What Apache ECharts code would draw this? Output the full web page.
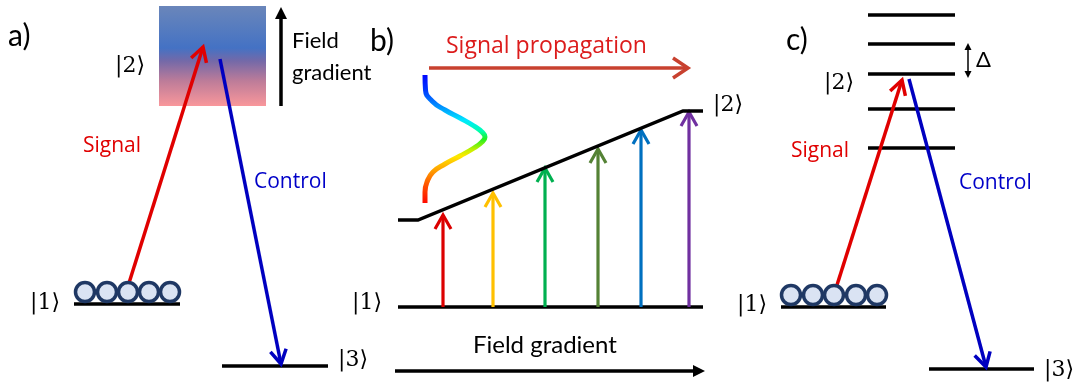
<!DOCTYPE html>
<html>
<head>
<meta charset="utf-8">
<script src="https://cdn.jsdelivr.net/npm/echarts@6/dist/echarts.min.js"></script>
<style>
  html, body { margin: 0; padding: 0; background: #fff; }
  #c { width: 1081px; height: 387px; }
</style>
</head>
<body>
<div id="c"></div>
<script>
// Drawing space: x runs 0..1081 to the right, y runs 0..387 downward.
const SPAN_X = 1081;
const SPAN_Y = 387;

// Energy-level bars: [x start, y, x end]
const levelBars = [
  [74, 304, 180],    // a) |1>
  [222, 366, 328],   // a) |3>
  [398, 307, 703],   // b) |1>
  [781, 307, 886],   // c) |1>
  [929, 369, 1034],  // c) |3>
  [868, 15, 955],    // c) shifted |2> ladder
  [868, 44, 955],
  [868, 74, 955],
  [868, 109, 955],
  [868, 148, 955]
];

// b) upper level tilted by the field gradient
const rampLevel = [[398, 220], [418, 220], [683, 111], [703, 111]];

// Broadened |2> band in a): [x1, y1, x2, y2]
const band = [[159, 6, 266, 106]];

// Atoms resting on |1>
const atomsA = [[85, 292], [107, 292], [128, 292], [149, 292], [170, 292]];
const atomsC = [[791, 295], [813, 295], [834, 295], [856, 295], [877, 295]];

// Optical transitions: [x1, y1, x2, y2]
const signalArrows = [[129, 283, 203, 47], [837, 285, 902, 80]];
const controlArrows = [[220, 59, 281, 364], [909, 79, 986, 367]];

// b) spectral components climbing from |1> to the tilted level
const rampX = [443, 493, 545, 598, 641, 689];
const rampTop = [215, 193, 168, 149, 130, 112];
const rampBase = 307;

// Direction arrows: [x1, y1, x2, y2]
const gradientArrows = [[281, 106, 281, 7], [395, 371, 705, 371]];
const propagationArrow = [[429, 68, 688, 68]];
const detuningArrow = [[968, 43, 968, 78]];

// Signal pulse envelope
const pulse = [
  [425, 75], [425.5, 90], [432, 101], [445, 110], [460, 118], [474, 126], [482, 132],
  [485, 137], [482, 142], [474, 148], [460, 156], [445, 164], [433, 172],
  [427, 182], [425, 192], [425, 203]
];

// Text: [x, y, text]
const panelLabels = [[8, 36, 'a)'], [370, 41, 'b)'], [786, 40, 'c)']];
const ketLabels = [
  [115, 66, '|2⟩'], [30, 303, '|1⟩'], [338, 360, '|3⟩'],
  [713, 105, '|2⟩'], [352, 303, '|1⟩'],
  [824, 83, '|2⟩'], [737, 305, '|1⟩'], [1044, 370, '|3⟩']
];
const signalLabels = [[83, 146, 'Signal'], [791, 151, 'Signal']];
const controlLabels = [[254, 182, 'Control'], [959, 183, 'Control']];
const propagationLabel = [[446, 46, 'Signal propagation']];
const gradientLabels = [[292, 41, 'Field'], [292, 73, 'gradient'], [473, 345, 'Field gradient']];
const deltaLabel = [[976, 60, 'Δ']];

// Styles
const rampColors = ['#dc0000', '#ffc000', '#00b050', '#548235', '#0070c0', '#7030a0'];
const KET_FONT = '22px "DejaVu Serif", "DejaVu Sans", serif';
const CALIBRI_LIKE = 'Lato, "Open Sans", sans-serif';
const ROUND_LIKE = '"Open Sans", Lato, sans-serif';

function arrowRenderer(cfg) {
  return function (params, api) {
    const p1 = api.coord([api.value(0), api.value(1)]);
    const p2 = api.coord([api.value(2), api.value(3)]);
    const color = cfg.colors ? cfg.colors[params.dataIndex % cfg.colors.length] : cfg.color;
    const dx = p2[0] - p1[0], dy = p2[1] - p1[1];
    const L = Math.hypot(dx, dy), ux = dx / L, uy = dy / L;
    const heads = cfg.both ? [[p2, ux, uy], [p1, -ux, -uy]] : [[p2, ux, uy]];
    let s = p1, e = p2;
    if (cfg.filled) {
      e = [p2[0] - ux * cfg.len * 0.8, p2[1] - uy * cfg.len * 0.8];
      if (cfg.both) s = [p1[0] + ux * cfg.len * 0.8, p1[1] + uy * cfg.len * 0.8];
    }
    const children = [{
      type: 'line',
      shape: { x1: s[0], y1: s[1], x2: e[0], y2: e[1] },
      style: { stroke: color, lineWidth: cfg.width, lineCap: 'butt' }
    }];
    heads.forEach(function (h) {
      const t = h[0], vx = h[1], vy = h[2];
      const bx = t[0] - vx * cfg.len, by = t[1] - vy * cfg.len;
      const a = [bx - vy * cfg.half, by + vx * cfg.half];
      const b = [bx + vy * cfg.half, by - vx * cfg.half];
      if (cfg.filled) {
        children.push({ type: 'polygon', shape: { points: [a, t, b] }, style: { fill: color } });
      } else {
        children.push({
          type: 'polyline', shape: { points: [a, t, b] },
          style: { stroke: color, fill: null, lineWidth: cfg.width, lineJoin: 'miter', lineCap: 'butt' }
        });
      }
    });
    return { type: 'group', children: children };
  };
}

function arrowSeries(data, cfg) {
  return {
    type: 'custom', coordinateSystem: 'cartesian2d', silent: true,
    encode: { x: [0, 2], y: [1, 3] },
    data: data, renderItem: arrowRenderer(cfg)
  };
}

function textSeries(rows, font, color) {
  return {
    type: 'custom', coordinateSystem: 'cartesian2d', silent: true,
    encode: { x: 0, y: 1 },
    data: rows.map(function (r) { return [r[0], r[1]]; }),
    renderItem: function (params, api) {
      const p = api.coord([api.value(0), api.value(1)]);
      return {
        type: 'text',
        style: {
          x: p[0], y: p[1], text: rows[params.dataIndex][2],
          font: font, fill: color, align: 'left', verticalAlign: 'middle'
        }
      };
    }
  };
}

const chart = echarts.init(document.getElementById('c'), null, { renderer: 'canvas' });

chart.setOption({
  animation: false,
  grid: { left: 0, right: 0, top: 0, bottom: 0 },
  xAxis: { type: 'value', min: 0, max: SPAN_X, show: false },
  yAxis: { type: 'value', min: 0, max: SPAN_Y, inverse: true, show: false },
  series: [
    // a) inhomogeneously broadened excited state
    {
      type: 'custom', coordinateSystem: 'cartesian2d', silent: true,
      encode: { x: [0, 2], y: [1, 3] },
      data: band,
      renderItem: function (params, api) {
        const p1 = api.coord([api.value(0), api.value(1)]);
        const p2 = api.coord([api.value(2), api.value(3)]);
        return {
          type: 'rect',
          shape: { x: p1[0], y: p1[1], width: p2[0] - p1[0], height: p2[1] - p1[1] },
          style: {
            fill: new echarts.graphic.LinearGradient(0, 0, 0, 1, [
              { offset: 0, color: '#6a86ba' },
              { offset: 0.42, color: '#4472c4' },
              { offset: 0.55, color: '#7469a8' },
              { offset: 0.75, color: '#bd7c99' },
              { offset: 1, color: '#f9979b' }
            ])
          }
        };
      }
    },
    // horizontal level bars
    {
      type: 'custom', coordinateSystem: 'cartesian2d', silent: true,
      encode: { x: [0, 2], y: 1 },
      data: levelBars,
      renderItem: function (params, api) {
        const p1 = api.coord([api.value(0), api.value(1)]);
        const p2 = api.coord([api.value(2), api.value(1)]);
        return {
          type: 'line',
          shape: { x1: p1[0], y1: p1[1], x2: p2[0], y2: p2[1] },
          style: { stroke: '#000', lineWidth: 3.5 }
        };
      }
    },
    // tilted level
    {
      type: 'line', data: rampLevel, symbol: 'none', silent: true,
      lineStyle: { color: '#000', width: 3.5, join: 'miter' }
    },
    // transitions
    arrowSeries(signalArrows, { color: '#e00000', width: 3.5, len: 14, half: 8 }),
    arrowSeries(controlArrows, { color: '#0000c0', width: 3.5, len: 14, half: 8 }),
    arrowSeries(rampX.map(function (x, i) { return [x, rampBase, x, rampTop[i]]; }),
      { colors: rampColors, width: 3.2, len: 14, half: 8 }),
    arrowSeries(propagationArrow, { color: '#c8412f', width: 3.5, len: 15, half: 10 }),
    arrowSeries(gradientArrows, { color: '#000', width: 3.5, len: 12, half: 6, filled: true }),
    arrowSeries(detuningArrow, { color: '#000', width: 1.5, len: 7, half: 3.5, filled: true, both: true }),
    // atoms
    {
      type: 'scatter', data: atomsA.concat(atomsC), symbol: 'circle', symbolSize: 19, silent: true,
      itemStyle: { color: '#dae3f3', borderColor: '#1f3864', borderWidth: 3.5, opacity: 1 }
    },
    // pulse envelope
    {
      type: 'line', data: pulse, symbol: 'none', smooth: 0.5, silent: true,
      lineStyle: {
        width: 5, cap: 'butt',
        color: new echarts.graphic.LinearGradient(0, 0, 0, 1, [
          { offset: 0, color: '#0000ff' },
          { offset: 0.12, color: '#0030ff' },
          { offset: 0.27, color: '#009cff' },
          { offset: 0.36, color: '#00e8ff' },
          { offset: 0.44, color: '#00ffb0' },
          { offset: 0.5, color: '#20f020' },
          { offset: 0.58, color: '#c0f000' },
          { offset: 0.63, color: '#ffe800' },
          { offset: 0.72, color: '#ffaa00' },
          { offset: 0.85, color: '#ff5000' },
          { offset: 1, color: '#ff0000' }
        ])
      }
    },
    // text
    textSeries(panelLabels, '30px ' + CALIBRI_LIKE, '#000'),
    textSeries(ketLabels, KET_FONT, '#000'),
    textSeries(signalLabels, '21px ' + ROUND_LIKE, '#e00000'),
    textSeries(controlLabels, '21px ' + ROUND_LIKE, '#0000c8'),
    textSeries(propagationLabel, '23px ' + ROUND_LIKE, '#dc1c1c'),
    textSeries(gradientLabels.slice(0, 2), '22px ' + CALIBRI_LIKE, '#000'),
    textSeries(gradientLabels.slice(2), '24px ' + CALIBRI_LIKE, '#000'),
    textSeries(deltaLabel, '22px ' + CALIBRI_LIKE, '#000')
  ]
});
</script>
</body>
</html>
